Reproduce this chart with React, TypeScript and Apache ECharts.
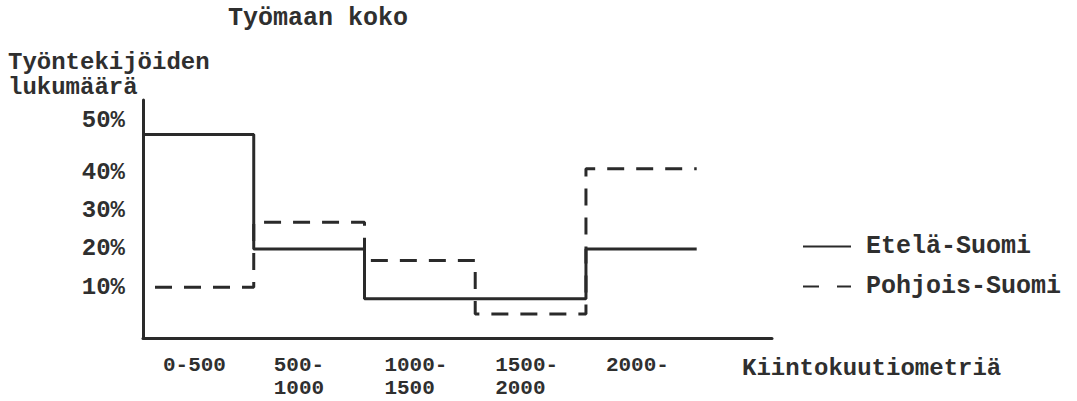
import React, { useEffect, useRef } from "react";
import * as echarts from "echarts";

// Category boundaries (m³) and labels
const lowerBounds = [0, 500, 1000, 1500, 2000];
const upperEnd = 2500;
const categories = ["0-500", "500-\n1000", "1000-\n1500", "1500-\n2000", "2000-"];

// Share of workers (%) per site size class
const eteläSuomi = [50, 20, 7, 7, 20];
const pohjoisSuomi = [10, 27, 17, 3, 41];

// Y tick labels
const yTicks = [10, 20, 30, 40, 50];

const FONT = "'Liberation Mono', 'Courier New', monospace";
const INK = "#2f2f2f";
const LINE = "#2a2a2a";

function stepData(values: number[]) {
  const pts: [number, number][] = values.map((v, i) => [lowerBounds[i], v]);
  pts.push([upperEnd, values[values.length - 1]]);
  return pts;
}

export default function App() {
  const ref = useRef<HTMLDivElement>(null);
  useEffect(() => {
    document.body.style.margin = "0";
    if (!ref.current) return;
    const chart = echarts.init(ref.current, undefined, { renderer: "svg" });
    const txt = { fontFamily: FONT, fontSize: 25, fontWeight: "bold" as const, color: INK };
    chart.setOption({
      animation: false,
      backgroundColor: "#ffffff",
      title: [
        { text: "Työmaan koko", left: 228, top: 6, padding: 0, textStyle: { ...txt, lineHeight: 25 } },
        { text: "Työntekijöiden\nlukumäärä", left: 8, top: 50, padding: 0, textStyle: { ...txt, fontSize: 24, lineHeight: 25 } },
        { text: "Kiintokuutiometriä", left: 742, top: 356, padding: 0, textStyle: { ...txt, fontSize: 24, lineHeight: 24 } },
      ],
      legend: {
        orient: "vertical",
        left: 802,
        top: 234,
        padding: 0,
        itemWidth: 48,
        itemHeight: 14,
        itemGap: 15,
        textStyle: { ...txt, lineHeight: 25, padding: [0, 0, 0, 10] },
        data: [
          { name: "Etelä-Suomi", itemStyle: { opacity: 0 } },
          {
            name: "Pohjois-Suomi",
            itemStyle: { opacity: 0 },
            lineStyle: { type: [16, 18], dashOffset: 0 },
          },
        ],
      },
      grid: { left: 143, right: 305, top: 100, bottom: 63, containLabel: false },
      xAxis: {
        type: "value",
        min: 0,
        max: 2840,
        splitLine: { show: false },
        axisTick: { show: false },
        axisLine: { show: true, onZero: false, lineStyle: { color: LINE, width: 3 } },
        axisLabel: {
          customValues: lowerBounds.map((b) => b + 90),
          align: "left",
          verticalAlign: "top",
          margin: 16,
          ...txt,
          fontSize: 21,
          lineHeight: 23,
          formatter: (v: number) => categories[Math.floor(v / 500)] ?? "",
        },
      },
      yAxis: {
        type: "value",
        min: -3.3,
        max: 59,
        splitLine: { show: false },
        axisTick: { show: false },
        axisLine: { show: true, onZero: false, lineStyle: { color: LINE, width: 3 } },
        axisLabel: {
          customValues: yTicks,
          margin: 18,
          ...txt,
          fontSize: 24,
          formatter: (v: number) => (v === 50 ? "{up|" + v + "%}" : v + "%"),
          rich: {
            up: { ...txt, fontSize: 24, padding: [0, 0, 28, 0] },
          },
        },
      },
      series: [
        {
          name: "Etelä-Suomi",
          type: "line",
          step: "end",
          symbol: "none",
          data: stepData(eteläSuomi),
          lineStyle: { color: LINE, width: 3 },
          itemStyle: { color: LINE },
        },
        {
          name: "Pohjois-Suomi",
          type: "line",
          step: "end",
          symbol: "none",
          data: stepData(pohjoisSuomi),
          lineStyle: { color: LINE, width: 3, type: [17, 12], dashOffset: 17 },
          itemStyle: { color: LINE },
        },
      ],
    });
    return () => chart.dispose();
  }, []);
  return <div ref={ref} style={{ width: 1077, height: 401 }} />;
}
